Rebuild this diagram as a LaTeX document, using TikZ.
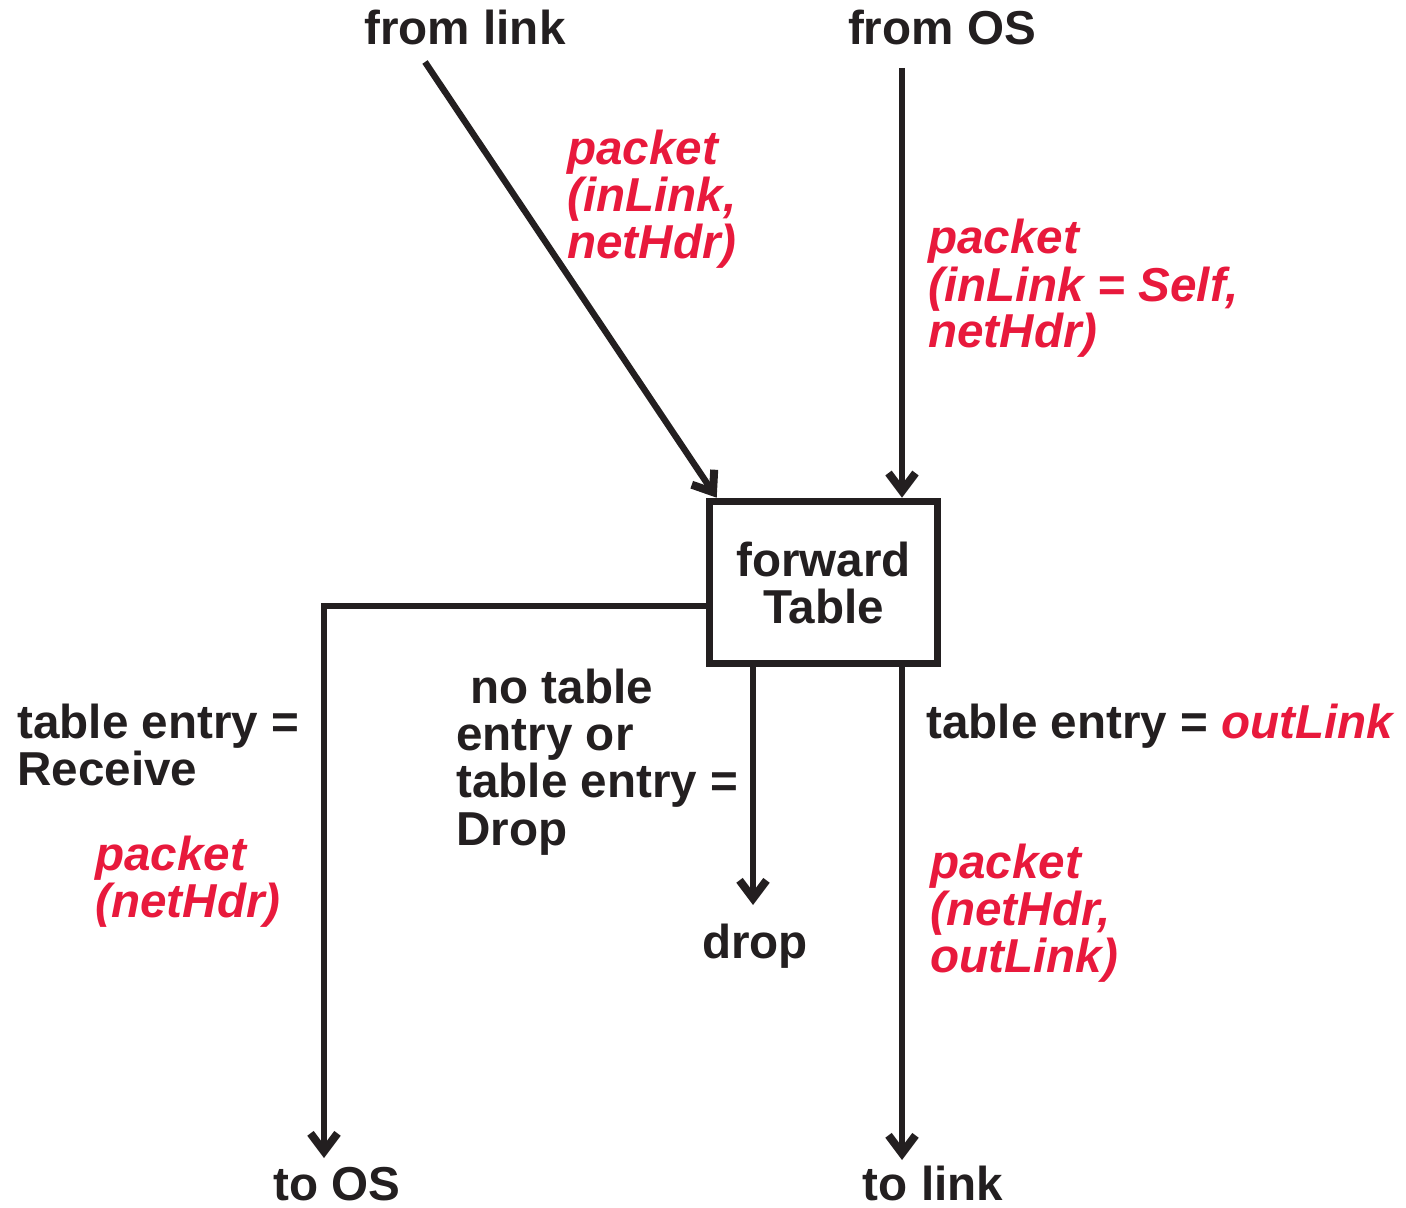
\documentclass[tikz,border=0pt]{standalone}
\usepackage{fontspec}
\setmainfont{Liberation Sans}
\usetikzlibrary{arrows.meta,calc}
\definecolor{ink}{RGB}{35,31,32}
\definecolor{accent}{RGB}{232,25,60}

\begin{document}
\begin{tikzpicture}[x=0.5pt,y=-0.5pt,
  lbl/.style={inner sep=0pt, anchor=base west, text=ink,
    font=\fontsize{23.8}{23.5}\selectfont\bfseries},
  hot/.style={lbl, text=accent,
    font=\fontsize{23.8}{23.5}\selectfont\bfseries\itshape},
  endlbl/.style={lbl, anchor=base},
  flow/.style={draw=ink, line width=3.2pt,
    -{Straight Barb[length=9pt,width=13.5pt,line width=4pt]}},
  tablebox/.style={draw=ink, line width=3.8pt, fill=white,
    minimum width=114pt, minimum height=81pt, inner sep=0pt,
    align=center, text=ink,
    font=\fontsize{23.8}{23.5}\selectfont\bfseries}
]
\useasboundingbox (0,0) rectangle (1406,1208);

% central table
\node[tablebox] (fwd) at (823.5,582.5) {forward\\Table};

% sources and sinks
\node[endlbl] (fromlink) at (465,45) {from link};
\node[endlbl] (fromos) at (942,45) {from OS};
\node[endlbl] (toos) at (337,1200) {to OS};
\node[endlbl] (tolink) at (933,1200) {to link};
\node[endlbl] (drop) at (755,958) {drop};

% connector end points
\coordinate (linkstart) at (425,62);
\coordinate (osstart) at (902,68);
\coordinate (linktip) at ($(fwd.north west)+(11,0)$);
\coordinate (bendL) at (324,606);
\coordinate (toosTip) at (324,1158);
\coordinate (dropTip) at (753,905);
\coordinate (tolinkTip) at (902,1160);

% incoming packets
\draw[flow] (linkstart) -- (linktip);
\draw[flow] (osstart) -- (osstart |- fwd.north);

% outgoing packets
\draw[flow] (fwd.west |- bendL) -- (bendL) -- (toosTip);
\draw[flow] (fwd.south -| dropTip) -- (dropTip);
\draw[flow] (fwd.south -| tolinkTip) -- (tolinkTip);

% packet from link
\node[hot] (pl1) at (567,165) {packet};
\node[hot] (pl2) at (567,212) {(inLink,};
\node[hot] (pl3) at (567,259) {netHdr)};

% packet from OS
\node[hot] (po1) at (928,254) {packet};
\node[hot] (po2) at (928,301) {(inLink = Self,};
\node[hot] (po3) at (928,348) {netHdr)};

% receive branch
\node[lbl] (rc1) at (17,738) {table entry =};
\node[lbl] (rc2) at (17,785) {Receive};
\node[hot] (pr1) at (95,870) {packet};
\node[hot] (pr2) at (95,917) {(netHdr)};

% drop branch
\node[lbl] (dr1) at (470,703) {no table};
\node[lbl] (dr2) at (456,750) {entry or};
\node[lbl] (dr3) at (456,797) {table entry =};
\node[lbl] (dr4) at (456,845) {Drop};

% forward branch
\node[lbl] (fw1) at (926,738) {table entry = {\color{accent}\itshape outLink}};
\node[hot] (pf1) at (930,878) {packet};
\node[hot] (pf2) at (930,925) {(netHdr,};
\node[hot] (pf3) at (930,972) {outLink)};
\end{tikzpicture}
\end{document}
